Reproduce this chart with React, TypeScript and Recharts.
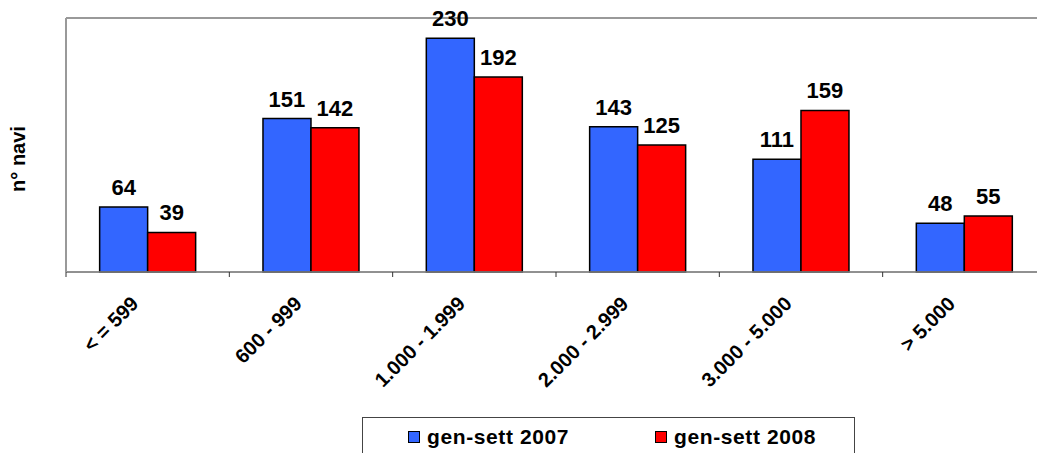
import React from "react";
import {
  BarChart,
  Bar,
  XAxis,
  YAxis,
  CartesianGrid,
  Legend,
  LabelList,
  ReferenceLine,
} from "recharts";

const CATEGORIES = ["< = 599", "600 - 999", "1.000 - 1.999", "2.000 - 2.999", "3.000 - 5.000", "> 5.000"];
const SERIES_2007 = [64, 151, 230, 143, 111, 48];
const SERIES_2008 = [39, 142, 192, 125, 159, 55];
const SERIES_NAMES = ["gen-sett 2007", "gen-sett 2008"];
const Y_TICKS = [0, 50, 100, 150, 200, 250];

const COLORS = ["#3366FF", "#FF0000"];
const FONT = "'Liberation Sans', Arial, sans-serif";

const data = CATEGORIES.map((name, i) => ({
  name,
  a: SERIES_2007[i],
  b: SERIES_2008[i],
}));

function CategoryTick(props: any) {
  const { x, y, payload } = props;
  const half = payload.offset || 81.7;
  const tx = x - 8;
  const ty = y + 33;
  return (
    <g>
      <line x1={x - half} x2={x - half} y1={y} y2={y + 5} stroke="#333" strokeWidth={1} />
      <text
        x={tx}
        y={ty}
        transform={`rotate(-45 ${tx} ${ty})`}
        textAnchor="end"
        fontFamily={FONT}
        fontWeight="bold"
        fontSize={20}
        fill="#000"
      >
        {payload.value}
      </text>
    </g>
  );
}

function renderLegend() {
  return (
    <div
      style={{
        position: "relative",
        boxSizing: "border-box",
        width: 493,
        height: 40,
        border: "1px solid #444",
        background: "#fff",
        fontFamily: FONT,
        fontWeight: "bold",
        fontSize: 21,
        letterSpacing: 0.6,
      }}
    >
      {SERIES_NAMES.map((n, i) => (
        <div
          key={n}
          style={{
            position: "absolute",
            left: 45 + i * 247,
            top: 0,
            lineHeight: "37px",
            whiteSpace: "nowrap",
            display: "flex",
            alignItems: "center",
          }}
        >
          <span
            style={{
              display: "inline-block",
              width: 10,
              height: 10,
              background: COLORS[i],
              border: "1.5px solid #000",
              marginRight: 7,
            }}
          />
          {n}
        </div>
      ))}
    </div>
  );
}

export default function App() {
  return (
    <div style={{ position: "absolute", left: 0, top: 0, width: 1037, height: 453, overflow: "hidden", background: "#fff" }}>
      <BarChart
        width={1060}
        height={453}
        data={data}
        margin={{ top: 18, right: 14, left: 0, bottom: 0 }}
        barCategoryGap="20.6%"
        barGap={0}
      >
        <CartesianGrid vertical={false} stroke="#555" strokeWidth={1} />
        <XAxis
          dataKey="name"
          height={181}
          interval={0}
          tickLine={false}
          tickSize={0}
          tickMargin={0}
          axisLine={{ stroke: "#888", strokeWidth: 1.5 }}
          tick={<CategoryTick />}
        />
        <YAxis
          width={66}
          domain={[0, 250]}
          ticks={Y_TICKS}
          tick={false}
          tickLine={false}
          axisLine={{ stroke: "#999", strokeWidth: 2 }}
          label={{
            content: () => (
              <text
                x={25}
                y={159}
                transform="rotate(-90 25 159)"
                textAnchor="middle"
                fontFamily={FONT}
                fontWeight="bold"
                fontSize={20}
                fill="#000"
              >
                n° navi
              </text>
            ),
          }}
        />
        <ReferenceLine y={250} stroke="#999" strokeWidth={2} />
        <Legend
          layout="horizontal"
          verticalAlign="middle"
          align="center"
          wrapperStyle={{ left: 362, top: 417, width: 493, height: 40 }}
          content={renderLegend}
        />
        <Bar dataKey="a" name={SERIES_NAMES[0]} fill={COLORS[0]} stroke="#000" strokeWidth={1.5} isAnimationActive={false}>
          <LabelList dataKey="a" position="top" offset={12} fontFamily={FONT} fontWeight="bold" fontSize={22} fill="#000" />
        </Bar>
        <Bar dataKey="b" name={SERIES_NAMES[1]} fill={COLORS[1]} stroke="#000" strokeWidth={1.5} isAnimationActive={false}>
          <LabelList dataKey="b" position="top" offset={12} fontFamily={FONT} fontWeight="bold" fontSize={22} fill="#000" />
        </Bar>
      </BarChart>
    </div>
  );
}
